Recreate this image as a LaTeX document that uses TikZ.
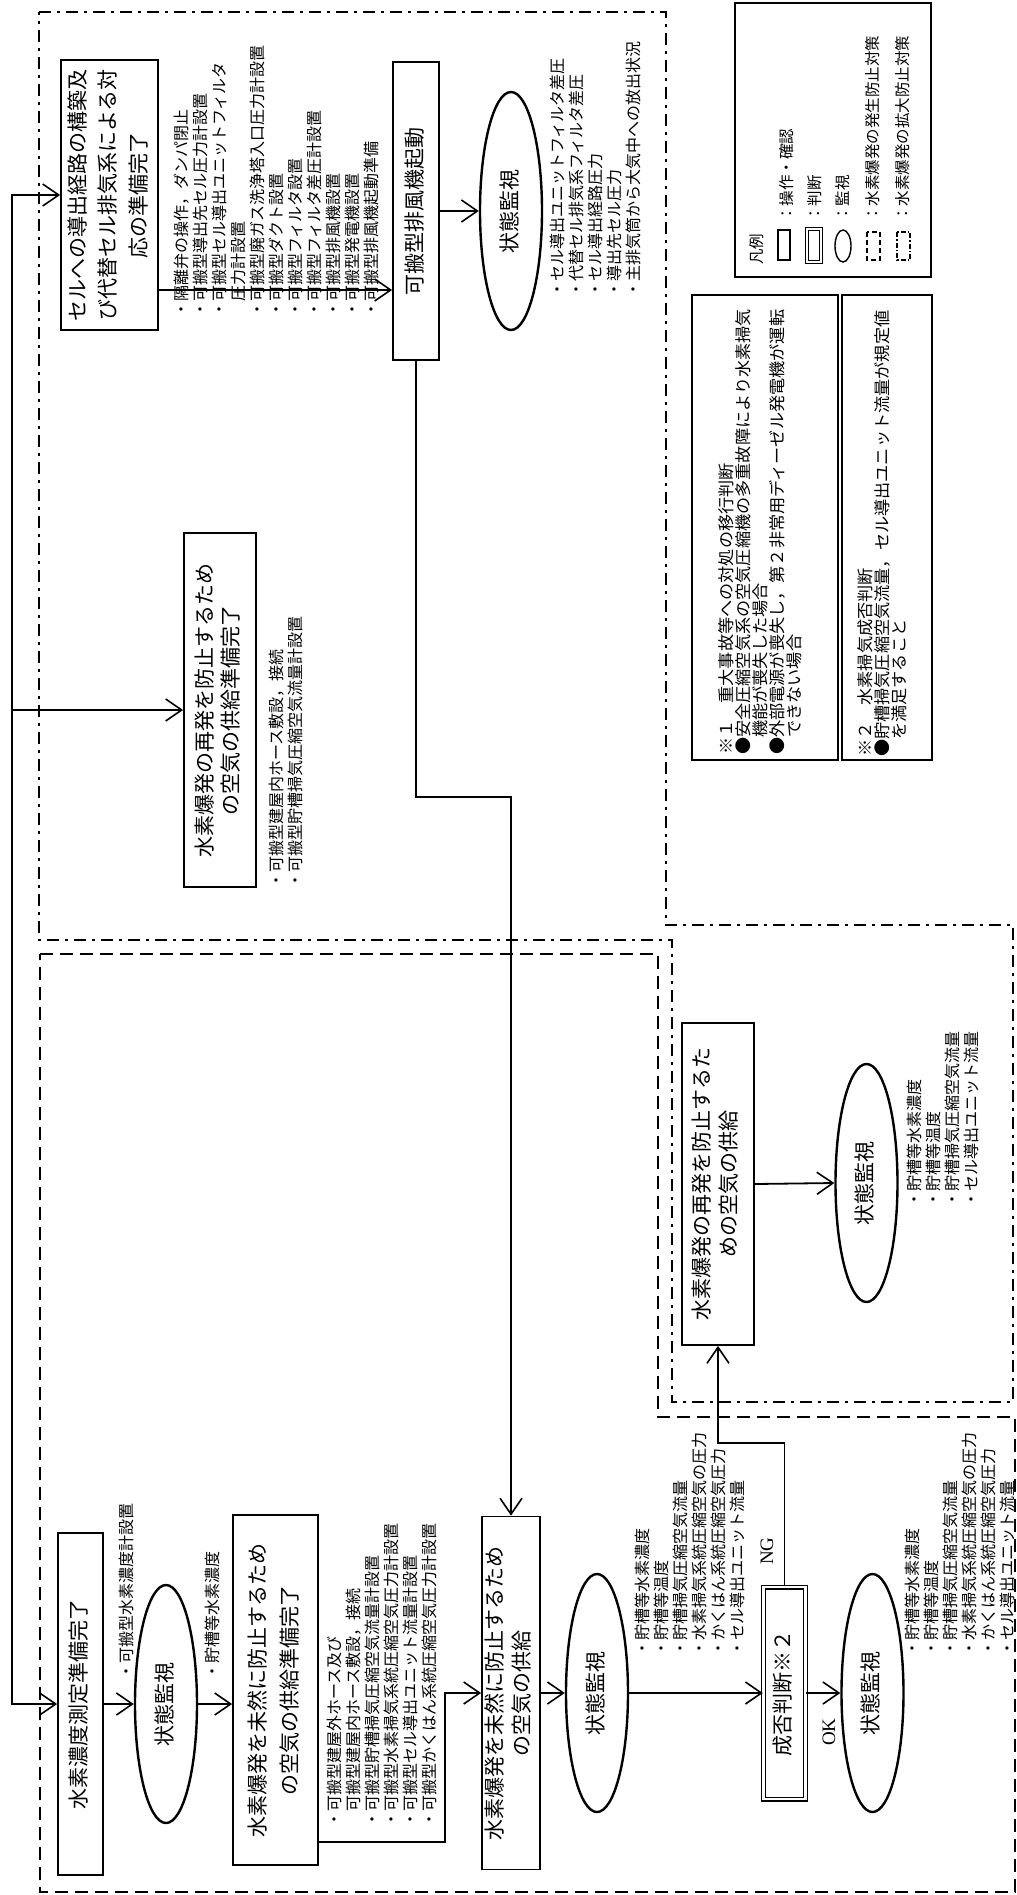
\documentclass[tikz,border=0pt]{standalone}
\usepackage{fontspec}
\setmainfont{Noto Sans CJK JP}
\newfontfamily\notefont[FakeStretch=1.04]{Noto Sans CJK JP}
\newfontfamily\latinserif{Liberation Serif}
\usepackage{graphicx}
\usetikzlibrary{arrows.meta,positioning,calc,shapes.geometric}

\newcommand{\listsz}{\fontsize{16}{19}\selectfont}
\newcommand{\legsz}{\fontsize{15.5}{15.5}\selectfont}
\newcommand{\notesz}{\notefont\fontsize{16.5}{17}\selectfont}
% box text, turned a quarter to the left
\newcommand{\vtext}[2][31]{\rotatebox{90}{\fontsize{21}{#1}\selectfont\begin{tabular}{@{}c@{}}#2\end{tabular}}}

\tikzset{
  opbox/.style={draw, line width=1.8pt, inner sep=0pt},
  judge/.style={draw, double, double distance=2.4pt, line width=1.3pt, inner sep=0pt},
  watch/.style={draw, ellipse, line width=2.4pt, inner sep=0pt,
    minimum width=62pt, minimum height=238pt},
  flow/.style={-{Straight Barb[length=16pt,width=22pt,line width=1.6pt]}, line width=1.8pt},
  items/.style={rotate=90, anchor=north west, align=left, inner sep=0pt, font=\listsz},
  legtext/.style={rotate=90, anchor=west, inner sep=0pt, font=\legsz},
  notebox/.style={draw, line width=2.4pt, inner sep=0pt},
  notetext/.style={rotate=90, anchor=north west, align=left, inner sep=0pt, font=\notesz},
  okng/.style={rotate=90, inner sep=0pt, font=\latinserif\fontsize{19}{19}\selectfont},
  % the two fences
  genline/.style={line width=2pt, dash pattern=on 13pt off 7pt},
  extline/.style={line width=2pt, dash pattern=on 12pt off 6pt on 3pt off 6pt},
}

\begin{document}
\begin{tikzpicture}[x=1pt,y=-1pt]
  \useasboundingbox (0,0) rectangle (1017,1895);

  % fences
  \draw[extline] (39,12) -- (666,12) -- (666,925) -- (1013,925) -- (1013,1402)
    -- (672,1402) -- (672,940) -- (39,940) -- cycle;
  \draw[genline] (40,954) -- (658,954) -- (658,1417) -- (1015,1417) -- (1015,1892)
    -- (40,1892) -- cycle;

  % legend
  \draw[line width=2pt] (735,3) rectangle (931,277);
  \node[legtext] (legtitle) at (757,265) {凡例};
  \draw[line width=1.4pt] (778,230) rectangle (790,260);
  \draw[line width=1.1pt, double, double distance=1.6pt] (807,229) rectangle (821,262);
  \draw[line width=1.4pt] (843,246) ellipse [x radius=8pt, y radius=16pt];
  \draw[line width=1.4pt, dash pattern=on 5pt off 3pt] (867,232) rectangle (880,260);
  \draw[line width=1.4pt, dash pattern=on 5pt off 2pt on 1.5pt off 2pt] (897,232) rectangle (910,260);
  \node[legtext] (legop) at (787,222) {：操作・確認};
  \node[legtext] (legjudge) at (815,222) {：判断};
  \node[legtext] (legwatch) at (843,222) {：監視};
  \node[legtext] (leggen) at (873,222) {：水素爆発の発生防止対策};
  \node[legtext] (legext) at (903,222) {：水素爆発の拡大防止対策};

  % notes
  \node[notebox, minimum width=146pt, minimum height=465pt] (note1) at (765,527.5) {};
  \node[notetext] (note1text) at (718,755)
    {※１　重大事故等への対処の移行判断\\
     ●安全圧縮空気系の空気圧縮機の多重故障により水素掃気\\
     　機能が喪失した場合\\
     ●外部電源が喪失し，第２非常用ディーゼル発電機が運転\\
     　できない場合};
  \node[notebox, minimum width=90pt, minimum height=465pt] (note2) at (887,527.5) {};
  \node[notetext] (note2text) at (857,757)
    {※２　水素掃気成否判断\\
     ●貯槽掃気圧縮空気流量，セル導出ユニット流量が規定値\\
     　を満足すること};

  % spread of the accident (upper fence)
  \node[opbox, minimum width=97pt, minimum height=270pt] (cellbox) at (109.5,195)
    {\vtext[30.5]{セルへの導出経路の構築及\\び代替セル排気系による対\\応の準備完了}};
  \node[items] (celllist) at (174,318)
    {・隔離弁の操作，ダンパ閉止\\
     ・可搬型導出先セル圧力計設置\\
     ・可搬型セル導出ユニットフィルタ\\
     　圧力計設置\\
     ・可搬型廃ガス洗浄塔入口圧力計設置\\
     ・可搬型ダクト設置\\
     ・可搬型フィルタ設置\\
     ・可搬型フィルタ差圧計設置\\
     ・可搬型排風機設置\\
     ・可搬型発電機設置\\
     ・可搬型排風機起動準備};
  \node[opbox, minimum width=46pt, minimum height=298pt] (fanbox) at (416,211)
    {\vtext{可搬型排風機起動}};
  \node[watch] (topwatch) at (511,211) {\vtext{状態監視}};
  \node[items] (toplist) at (550,298)
    {・セル導出ユニットフィルタ差圧\\
     ・代替セル排気系フィルタ差圧\\
     ・セル導出経路圧力\\
     ・導出先セル圧力\\
     ・主排気筒から大気中への放出状況};
  \node[opbox, minimum width=72pt, minimum height=354pt] (reprep) at (220,710)
    {\vtext[26]{水素爆発の再発を防止するため\\の空気の供給準備完了}};
  \node[items] (repreplist) at (269,889)
    {・可搬型建屋内ホース敷設，接続\\
     ・可搬型貯槽掃気圧縮空気流量計設置};
  \node[opbox, minimum width=72pt, minimum height=322pt] (resupbox) at (718,1184)
    {\vtext[27]{水素爆発の再発を防止するた\\めの空気の供給}};
  \node[watch] (watch4) at (866.5,1183) {\vtext{状態監視}};
  \node[items] (list6) at (907,1208)
    {・貯槽等水素濃度\\
     ・貯槽等温度\\
     ・貯槽掃気圧縮空気流量\\
     ・セル導出ユニット流量};

  % prevention (lower fence)
  \node[opbox, minimum width=45pt, minimum height=342pt] (measbox) at (80.5,1704)
    {\vtext{水素濃度測定準備完了}};
  \node[watch] (watch1) at (166,1704) {\vtext{状態監視}};
  \node[items] (list1) at (119,1680) {・可搬型水素濃度計設置};
  \node[items] (list2) at (205,1680) {・貯槽等水素濃度};
  \node[opbox, minimum width=85pt, minimum height=350pt] (prepbox) at (275.5,1690)
    {\vtext[32]{水素爆発を未然に防止するため\\の空気の供給準備完了}};
  \node[items] (list3) at (327,1828)
    {・可搬型建屋外ホース及び\\
     　可搬型建屋内ホース敷設，接続\\
     ・可搬型貯槽掃気圧縮空気流量計設置\\
     ・可搬型水素掃気系統圧縮空気圧力計設置\\
     ・可搬型セル導出ユニット流量計設置\\
     ・可搬型かくはん系統圧縮空気圧力計設置};
  \node[opbox, minimum width=58pt, minimum height=353pt] (supbox) at (511,1693)
    {\vtext[27]{水素爆発を未然に防止するため\\の空気の供給}};
  \node[watch] (watch2) at (597,1693) {\vtext{状態監視}};
  \node[items] (list4) at (635,1657)
    {・貯槽等水素濃度\\
     ・貯槽等温度\\
     ・貯槽掃気圧縮空気流量\\
     ・水素掃気系統圧縮空気の圧力\\
     ・かくはん系統圧縮空気圧力\\
     ・セル導出ユニット流量};
  \node[judge, minimum width=42pt, minimum height=212pt] (judgebox) at (784.5,1693)
    {\vtext{成否判断※２}};
  \node[watch] (watch3) at (872.5,1693) {\vtext{状態監視}};
  \node[items] (list5) at (905,1657)
    {・貯槽等水素濃度\\
     ・貯槽等温度\\
     ・貯槽掃気圧縮空気流量\\
     ・水素掃気系統圧縮空気の圧力\\
     ・かくはん系統圧縮空気圧力\\
     ・セル導出ユニット流量};
  \node[okng] (nglabel) at (767,1551) {NG};
  \node[okng] (oklabel) at (829,1732) {OK};

  % connectors
  \coordinate (trunk) at (12,710);
  \draw[flow] (trunk) |- (cellbox.west);
  \draw[flow] (trunk) -- (reprep.west);
  \draw[flow] (trunk) |- (measbox.west);
  \draw[flow] ([yshift=-95pt]cellbox.east) -- ([yshift=-95pt]cellbox.east -| fanbox.west);
  \draw[flow] (fanbox.east) -- (topwatch.west);
  \coordinate (fanjog) at (460,797);
  \draw[flow] (fanbox.south) |- (fanjog) -| (supbox.north);
  \draw[flow] (measbox.east) -- (watch1.west);
  \draw[flow] (watch1.east) -- (watch1.east -| prepbox.west);
  \coordinate (prepjog) at (445,1760);
  \draw[flow] ([yshift=-152pt]prepbox.east) -| (prepjog) |- (supbox.west);
  \draw[flow] (supbox.east) -- (watch2.west);
  \draw[flow] (watch2.east) -- (judgebox.west);
  \draw[flow] (judgebox.east) -- (watch3.west);
  \coordinate (ngjog) at (750,1443);
  \draw[flow] (judgebox.north) |- (ngjog) -| (resupbox.south);
  \draw[flow] (resupbox.east) -- (watch4.west);
\end{tikzpicture}
\end{document}
